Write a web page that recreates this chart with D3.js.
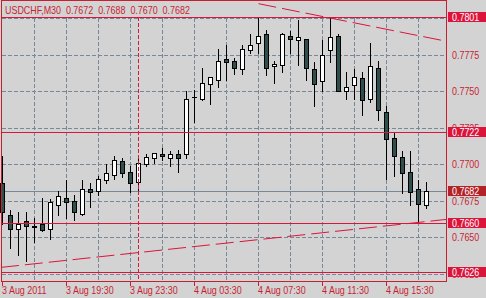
<!DOCTYPE html>
<html><head><meta charset="utf-8">
<script src="https://cdn.jsdelivr.net/npm/d3@7"></script>
<style>html,body{margin:0;padding:0;background:#d3d3d3;overflow:hidden}</style>
</head><body><svg id="c" width="486" height="298"></svg>
<script>
const symbol = "USDCHF,M30";
const opens  = [0.7687,0.7665,0.7656,0.7661,0.7657,0.7659,0.7656,0.7672,0.7677,0.7675,
                0.7666,0.7683,0.7682,0.7689,0.7693,0.7702,0.7695,0.7688,0.7700,0.7704,
                0.7707,0.7704,0.7707,0.7707,0.7746,0.7745,0.7755,0.7758,0.7772,0.7771,
                0.7765,0.7778,0.7783,0.7789,0.7767,0.7768,0.7788,0.7785,0.7786,0.7765,
                0.7757,0.7778,0.7788,0.7750,0.7754,0.7759,0.7745,0.7766,0.7736,0.7718,
                0.7705,0.7695,0.7683,0.7672];
const highs  = [0.7706,0.7669,0.7667,0.7667,0.7663,0.7677,0.7676,0.7682,0.7689,0.7679,
                0.7689,0.7687,0.7692,0.7700,0.7706,0.7704,0.7699,0.7704,0.7707,0.7708,
                0.7711,0.7709,0.7710,0.7750,0.7751,0.7766,0.7760,0.7779,0.7782,0.7773,
                0.7782,0.7789,0.7801,0.7792,0.7771,0.7790,0.7791,0.7799,0.7786,0.7770,
                0.7785,0.7801,0.7789,0.7763,0.7765,0.7763,0.7783,0.7771,0.7740,0.7722,
                0.7709,0.7709,0.7689,0.7688];
const lows   = [0.7659,0.7643,0.7638,0.7634,0.7647,0.7654,0.7649,0.7665,0.7663,0.7662,
                0.7665,0.7671,0.7679,0.7687,0.7690,0.7691,0.7681,0.7681,0.7699,0.7701,
                0.7703,0.7699,0.7695,0.7704,0.7729,0.7744,0.7741,0.7753,0.7758,0.7762,
                0.7762,0.7776,0.7776,0.7761,0.7756,0.7763,0.7776,0.7768,0.7758,0.7740,
                0.7750,0.7770,0.7750,0.7745,0.7745,0.7734,0.7743,0.7730,0.7690,0.7692,
                0.7680,0.7672,0.7660,0.7670];
const closes = [0.7667,0.7656,0.7659,0.7658,0.7658,0.7655,0.7674,0.7678,0.7674,0.7667,
                0.7683,0.7681,0.7690,0.7694,0.7703,0.7694,0.7687,0.7701,0.7705,0.7708,
                0.7706,0.7707,0.7704,0.7745,0.7746,0.7756,0.7760,0.7771,0.7770,0.7766,
                0.7779,0.7782,0.7788,0.7766,0.7769,0.7789,0.7786,0.7787,0.7766,0.7755,
                0.7775,0.7787,0.7750,0.7753,0.7760,0.7744,0.7767,0.7737,0.7717,0.7706,
                0.7694,0.7681,0.7673,0.7682];
const timeTickIndex  = [0,8,16,24,32,40,48];
const timeTickLabels = ["3 Aug 2011","3 Aug 19:30","3 Aug 23:30","4 Aug 03:30","4 Aug 07:30","4 Aug 11:30","4 Aug 15:30"];
const priceTicks = [0.7800,0.7775,0.7750,0.7725,0.7700,0.7675,0.7650,0.7625];
const levelPrices = [0.7801,0.7722,0.7660,0.7626];
const bidPrice = 0.7682;
const daySeparators = [17];
const gridIndex = [4,8,12,16,20,24,28,32,36,40,44,48,52];
const upperTrend = [[32,0.7810],[53,0.7787]];
const lowerTrend = [[0,0.76295],[53,0.76608]];

const W = 486, H = 298;
const L = 1, R = 446, T = 0, B = 281;
const red = "#dc143c", frame = "#c81e32", grid = "#778899";
const FONT = "Liberation Sans, Arial, sans-serif";
const SX = 0.85;

const n = opens.length;
const bars = d3.range(n).map(i => ({i, o: opens[i], h: highs[i], l: lows[i], c: closes[i]}));

const x = d3.scaleLinear().domain([0, n - 1]).range([2, 2 + 8 * (n - 1)]);
const y = d3.scaleLinear().domain([0.762007, 0.781253]).range([B, T]);
const py = p => Math.round(y(p));
const cx = i => x(i) + 0.5;

const svg = d3.select("#c");
svg.append("rect").attr("width", W).attr("height", H).attr("fill", "#d3d3d3");

svg.append("defs").append("clipPath").attr("id", "plot")
  .append("rect").attr("x", L + 1).attr("y", 0).attr("width", R - L - 1).attr("height", B);

// grid
const gGrid = svg.append("g").attr("stroke", grid).attr("stroke-dasharray", "4,2").attr("fill", "none");
gGrid.selectAll("line.h").data(priceTicks).join("line")
  .attr("x1", L + 1).attr("x2", R).attr("y1", d => py(d) + 0.5).attr("y2", d => py(d) + 0.5);
gGrid.selectAll("line.v").data(gridIndex).join("line")
  .attr("x1", d => cx(d)).attr("x2", d => cx(d)).attr("y1", py(priceTicks[0])).attr("y2", B);

// bid line
svg.append("line").attr("x1", L + 1).attr("x2", R).attr("y1", py(bidPrice) + 0.5).attr("y2", py(bidPrice) + 0.5)
  .attr("stroke", grid);

// candles
const gC = svg.append("g");
gC.selectAll("line.w").data(bars).join("line")
  .attr("x1", d => cx(d.i)).attr("x2", d => cx(d.i))
  .attr("y1", d => py(d.h)).attr("y2", d => py(d.l) + 1)
  .attr("stroke", "#000");
gC.selectAll("rect.b").data(bars.filter(d => py(d.o) !== py(d.c))).join("rect")
  .attr("x", d => cx(d.i) - 2).attr("width", 4)
  .attr("y", d => py(Math.max(d.o, d.c)) + 0.5)
  .attr("height", d => py(Math.min(d.o, d.c)) - py(Math.max(d.o, d.c)))
  .attr("fill", d => d.c > d.o ? "#ffffff" : "#2f4f4f")
  .attr("stroke", "#000");
gC.selectAll("line.d").data(bars.filter(d => py(d.o) === py(d.c))).join("line")
  .attr("x1", d => cx(d.i) - 2.5).attr("x2", d => cx(d.i) + 2.5)
  .attr("y1", d => py(d.o) + 0.5).attr("y2", d => py(d.o) + 0.5)
  .attr("stroke", "#000");

// objects
const gO = svg.append("g").attr("clip-path", "url(#plot)");
gO.selectAll("line.lv").data(levelPrices).join("line")
  .attr("x1", L).attr("x2", R).attr("y1", d => py(d) + 0.5).attr("y2", d => py(d) + 0.5)
  .attr("stroke", red);
gO.selectAll("line.sep").data(daySeparators).join("line")
  .attr("x1", d => cx(d)).attr("x2", d => cx(d)).attr("y1", py(levelPrices[0])).attr("y2", B)
  .attr("stroke", red).attr("stroke-dasharray", "4,2");
function trend(pts, fromStart) {
  const [a, b] = pts;
  const slope = (y(b[1]) - y(a[1])) / (x(b[0]) - x(a[0]));
  const x0 = fromStart ? L : cx(a[0]);
  const y0 = y(a[1]) + (x0 - cx(a[0])) * slope;
  const y1 = y(a[1]) + (R - cx(a[0])) * slope;
  gO.append("line").attr("x1", x0).attr("y1", y0).attr("x2", R).attr("y2", y1)
    .attr("stroke", red).attr("stroke-dasharray", "18,6");
}
trend(upperTrend, false);
trend(lowerTrend, true);

// frame
const gF = svg.append("g").attr("stroke", frame).attr("fill", "none");
gF.append("line").attr("x1", L + 0.5).attr("x2", L + 0.5).attr("y1", 0).attr("y2", B + 1);
gF.append("line").attr("x1", R + 0.5).attr("x2", R + 0.5).attr("y1", 0).attr("y2", B + 1);
gF.append("line").attr("x1", L).attr("x2", R + 1).attr("y1", B + 0.5).attr("y2", B + 0.5);
gF.append("line").attr("x1", L).attr("x2", R + 1).attr("y1", 0.5).attr("y2", 0.5);

// time axis
const xAxis = d3.axisBottom(x).tickValues(timeTickIndex)
  .tickFormat((d, i) => timeTickLabels[i]).tickSize(4).tickSizeOuter(0);
const gx = svg.append("g").attr("transform", `translate(0,${B + 1})`).call(xAxis);
gx.select(".domain").remove();
gx.selectAll(".tick line").attr("stroke", frame);
gx.selectAll(".tick text").attr("fill", frame).attr("font-family", FONT).attr("font-size", "10.5px")
  .attr("text-anchor", "start").attr("y", 0).attr("dy", 0)
  .attr("transform", `translate(-0.5,12) scale(${SX},1)`);

// price axis
const yAxis = d3.axisRight(y).tickValues(priceTicks).tickFormat(d3.format(".4f")).tickSize(0);
const gy = svg.append("g").attr("transform", `translate(${R},0)`).call(yAxis);
gy.select(".domain").remove();
gy.selectAll(".tick line").remove();
gy.selectAll(".tick text").attr("fill", frame).attr("font-family", FONT).attr("font-size", "10.5px")
  .attr("text-anchor", "start").attr("x", 0).attr("dy", 0)
  .attr("transform", `translate(6,3.5) scale(${SX},1)`);

// price boxes
const boxes = levelPrices.map(p => ({p, fill: red})).concat([{p: bidPrice, fill: "#b22228"}]);
const gB = svg.append("g");
gB.selectAll("rect").data(boxes).join("rect")
  .attr("x", R + 2).attr("y", d => py(d.p) - 5).attr("width", W - R - 2).attr("height", 10)
  .attr("fill", d => d.fill);
gB.selectAll("text").data(boxes).join("text")
  .attr("transform", d => `translate(${R + 6},${py(d.p) + 4}) scale(${SX},1)`)
  .attr("fill", "#fff").attr("font-family", FONT).attr("font-size", "10.5px")
  .text(d => d3.format(".4f")(d.p));

// title
svg.append("text").attr("transform", `translate(5,14) scale(${SX},1)`)
  .attr("fill", frame).attr("font-family", FONT).attr("font-size", "10.5px")
  .attr("xml:space", "preserve")
  .text(`${symbol}  ${d3.format(".4f")(opens[n-1])}  ${d3.format(".4f")(highs[n-1])}  ${d3.format(".4f")(lows[n-1])}  ${d3.format(".4f")(closes[n-1])}`);
</script></body></html>
